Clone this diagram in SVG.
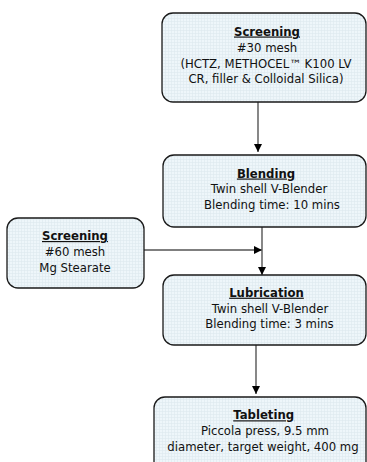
<svg xmlns="http://www.w3.org/2000/svg" width="367" height="462" viewBox="0 0 367 462">
<style>
.box{fill:url(#grid);stroke:#1a1a1a;stroke-width:1.3}
.t{font-family:"DejaVu Sans",Verdana,sans-serif;font-size:11.7px;fill:#111;text-anchor:middle}
.h{font-weight:bold;text-decoration:underline}
.conn{stroke:#555;stroke-width:1.4;fill:none}
</style>
<defs>
<pattern id="grid" width="3" height="3" patternUnits="userSpaceOnUse">
<rect width="3" height="3" fill="#eef6fa"/>
<path d="M0 0.5H3M0.5 0V3" stroke="#dde9ef" stroke-width="0.6"/>
</pattern>
<marker id="ah" markerWidth="8" markerHeight="8" refX="8" refY="4" orient="auto" markerUnits="userSpaceOnUse">
<path d="M0 0L8 4L0 8Z" fill="#000"/>
</marker>
</defs>
<g id="connectors">
<line class="conn" x1="258" y1="102" x2="258" y2="152" marker-end="url(#ah)"/>
<line class="conn" x1="144" y1="250" x2="262" y2="250" marker-end="url(#ah)"/>
<line class="conn" x1="262" y1="227" x2="262" y2="275" marker-end="url(#ah)"/>
<line class="conn" x1="256" y1="345" x2="256" y2="394" marker-end="url(#ah)"/>
</g>
<g id="screening30">
<rect class="box" x="162" y="13" width="204" height="89" rx="11"/>
<text class="t h" x="267" y="35.5">Screening</text>
<text class="t" x="267" y="51.5">#30 mesh</text>
<text class="t" x="266" y="67.5">(HCTZ, METHOCEL™ K100 LV</text>
<text class="t" x="266" y="83.3">CR, filler &amp; Colloidal Silica)</text>
</g>
<g id="blending">
<rect class="box" x="163" y="155" width="203" height="72" rx="11"/>
<text class="t h" x="266" y="177.5">Blending</text>
<text class="t" x="269" y="193">Twin shell V-Blender</text>
<text class="t" x="272" y="209">Blending time: 10 mins</text>
</g>
<g id="screening60">
<rect class="box" x="7" y="218" width="137" height="70" rx="11"/>
<text class="t h" x="75" y="240">Screening</text>
<text class="t" x="75" y="256">#60 mesh</text>
<text class="t" x="75" y="271.5">Mg Stearate</text>
</g>
<g id="lubrication">
<rect class="box" x="163" y="275" width="203" height="70" rx="11"/>
<text class="t h" x="266.5" y="296.7">Lubrication</text>
<text class="t" x="270" y="312.5">Twin shell V-Blender</text>
<text class="t" x="269.5" y="328">Blending time: 3 mins</text>
</g>
<g id="tableting">
<rect class="box" x="154" y="397" width="212" height="80" rx="11"/>
<text class="t h" x="263.7" y="419.3">Tableting</text>
<text class="t" x="265" y="435">Piccola press, 9.5 mm</text>
<text class="t" x="263" y="450.7">diameter, target weight, 400 mg</text>
</g>
</svg>
